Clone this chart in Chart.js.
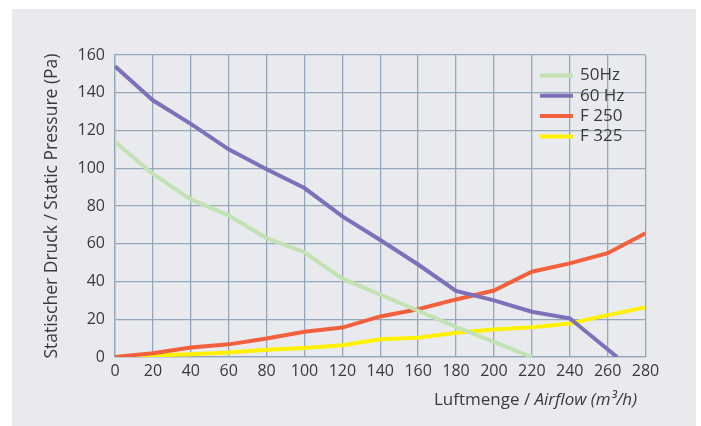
<!DOCTYPE html>
<html>
<head>
<meta charset="utf-8">
<script src="https://cdn.jsdelivr.net/npm/chart.js@4"></script>
<style>
  html, body { margin: 0; padding: 0; background: #fff; }
  #box { width: 701px; height: 426px; }
</style>
</head>
<body>
<div id="box"><canvas id="tabla" width="701" height="426"></canvas></div>
<script>
// Luftmenge (m3/h) und Druck (Pa)
var x50  = [0, 20, 40, 60, 80, 100, 120, 140, 160, 180, 200, 220];
var y50  = [114, 97, 83.5, 75, 63, 55.5, 41.5, 33, 24.5, 16, 8, 0];
var x60  = [0, 20, 40, 60, 80, 100, 120, 140, 160, 180, 200, 220, 240, 265];
var y60  = [154, 136, 123.5, 110, 99.5, 89.5, 74.5, 62, 49, 35, 30, 24, 20.5, 0];
var xF   = [0, 20, 40, 60, 80, 100, 120, 140, 160, 180, 200, 220, 240, 260, 280];
var yF250 = [0, 2, 5, 6.7, 9.8, 13.4, 15.6, 21.5, 25.3, 30.5, 35.2, 45.2, 49.6, 55, 65.5];
var yF325 = [0, 0.8, 1.5, 2.4, 3.8, 4.8, 6.2, 9.4, 10.2, 12.8, 14.6, 15.7, 17.8, 22.2, 26.3];

var seriesNames  = ['50Hz', '60 Hz', 'F 250', 'F 325'];
var seriesColors = ['#c3e2b3', '#7d71b9', '#f2603e', '#fff100'];

var xTitle1 = 'Luftmenge / ';
var xTitle2 = 'Airflow (m\u00b3/h)';
var yTitle  = 'Statischer Druck / Static Pressure (Pa)';

var FONT = '"Open Sans", Lato, sans-serif';
var TXT  = '#3a3a3a';

function pts(xs, ys) {
    return xs.map(function (v, i) { return { x: v, y: ys[i] }; });
}

var allX = [x50, x60, xF, xF];
var allY = [y50, y60, yF250, yF325];

var datos = {
    datasets: seriesNames.map(function (n, i) {
        return {
            label: n,
            data: pts(allX[i], allY[i]),
            borderColor: seriesColors[i],
            backgroundColor: seriesColors[i],
            borderWidth: 4,
            pointRadius: 0,
            tension: 0,
            fill: false
        };
    })
};

// Hintergrund, Achsentitel und Legende
var extras = {
    id: 'extras',
    beforeDraw: function (chart) {
        var c = chart.ctx;
        c.save();
        c.fillStyle = '#ffffff';
        c.fillRect(0, 0, chart.width, chart.height);
        c.fillStyle = '#e9eaee';
        c.fillRect(12, 9, 684, 417);
        c.restore();
    },
    afterDraw: function (chart) {
        var c = chart.ctx;
        c.save();
        c.fillStyle = TXT;
        c.textBaseline = 'middle';

        // x title
        c.font = '17px ' + FONT;
        var w1 = c.measureText(xTitle1).width;
        c.font = 'italic 17px ' + FONT;
        var w2 = c.measureText(xTitle2).width;
        var xs = 637 - w1 - w2;
        c.textAlign = 'left';
        c.font = '17px ' + FONT;
        c.fillText(xTitle1, xs, 400);
        c.font = 'italic 17px ' + FONT;
        c.fillText(xTitle2, xs + w1, 400);

        // y title
        c.translate(52, 206);
        c.rotate(-Math.PI / 2);
        c.textAlign = 'center';
        c.font = '17.5px ' + FONT;
        c.fillText(yTitle, 0, 0);
        c.restore();

        // legend
        c.save();
        c.font = '17px ' + FONT;
        c.textBaseline = 'middle';
        c.textAlign = 'left';
        chart.data.datasets.forEach(function (ds, i) {
            var y = 75.5 + i * 20.3;
            c.strokeStyle = ds.borderColor;
            c.lineWidth = 4;
            c.beginPath();
            c.moveTo(540, y);
            c.lineTo(573, y);
            c.stroke();
            c.fillStyle = TXT;
            c.fillText(ds.label, 580, y);
        });
        c.restore();
    }
};

var opciones = {
    responsive: false,
    animation: false,
    layout: { padding: { left: 0, top: 55, right: 55.5, bottom: 0 } },
    plugins: {
        legend: { display: false },
        tooltip: { enabled: false }
    },
    scales: {
        x: {
            type: 'linear',
            min: 0,
            max: 280,
            ticks: { stepSize: 20, padding: 5, color: TXT, font: { family: FONT, size: 16 } },
            grid: { color: '#97a7ba', lineWidth: 1.3, drawTicks: false },
            border: { color: '#97a7ba', width: 1.3 },
            afterFit: function (s) { s.height = 69; }
        },
        y: {
            min: 0,
            max: 160,
            ticks: { stepSize: 20, padding: 10, color: TXT, font: { family: FONT, size: 16 } },
            grid: { color: '#97a7ba', lineWidth: 1.3, drawTicks: false },
            border: { color: '#97a7ba', width: 1.3 },
            afterFit: function (s) { s.width = 115; }
        }
    }
};

var miGrafico = new Chart(document.getElementById('tabla').getContext('2d'), {
    type: 'line',
    data: datos,
    options: opciones,
    plugins: [extras]
});
</script>
</body>
</html>
